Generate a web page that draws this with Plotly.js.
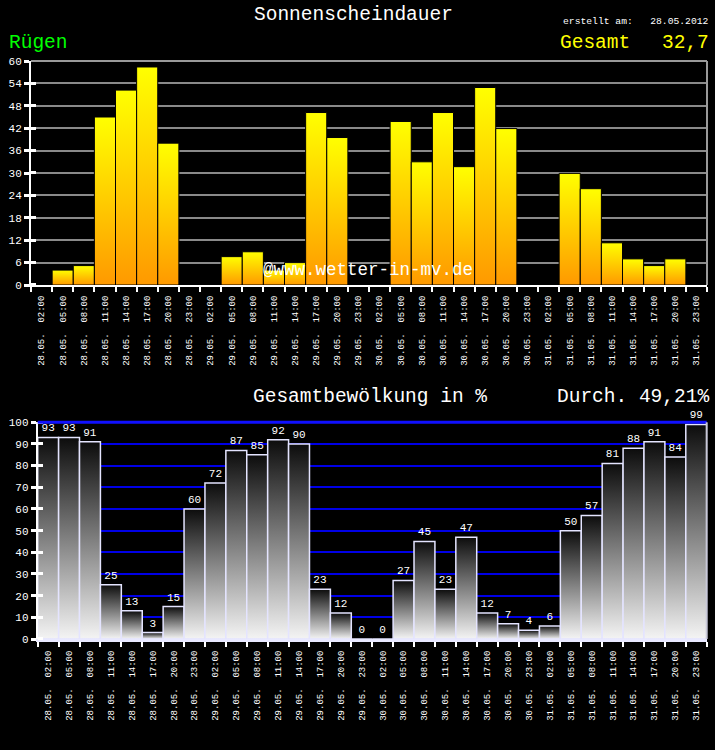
<!DOCTYPE html>
<html><head><meta charset="utf-8">
<script src="https://cdn.plot.ly/plotly-3.0.1.min.js"></script>
<style>html,body{margin:0;padding:0;background:#000;} #chart{width:715px;height:750px;}</style>
</head><body><div id="chart"></div>
<script>
const days = ['28.05.', '29.05.', '30.05.', '31.05.'];
const times = ['02:00', '05:00', '08:00', '11:00', '14:00', '17:00', '20:00', '23:00'];
// sunshine duration per 3-hour slot
const sunshine = [0, 4, 5.2, 45, 52.2, 58.4, 38, 0,
                  0, 7.6, 8.9, 4, 6, 46.2, 39.5, 0,
                  0, 43.8, 33, 46.2, 31.7, 52.9, 41.9, 0,
                  0, 29.9, 25.8, 11.3, 7, 5.2, 7, 0];
// total cloud cover in %
const clouds = [93, 93, 91, 25, 13, 3, 15, 60,
                72, 87, 85, 92, 90, 23, 12, 0,
                0, 27, 45, 23, 47, 12, 7, 4,
                6, 50, 57, 81, 88, 91, 84, 99];

const NB = '\u00a0';
const labels = [];
days.forEach(d => times.forEach(t => labels.push(d + NB + NB + t)));

const MONO = 'Liberation Mono, DejaVu Sans Mono, monospace';
const W = 715, H = 750;
const px = v => v / W, py = v => 1 - v / H;

const traces = [
  {type: 'bar', x: labels, y: sunshine, xaxis: 'x', yaxis: 'y',
   marker: {color: '#ffcc00', line: {color: '#000', width: 1}}, hoverinfo: 'none'},
  {type: 'bar', x: labels, y: clouds, xaxis: 'x2', yaxis: 'y2',
   text: clouds.map(String), textposition: 'outside', cliponaxis: false, constraintext: 'none',
   textangle: 0, textfont: {family: MONO, size: 11, color: '#fff'},
   marker: {color: '#888', line: {color: '#e4e4ff', width: 1.5}}, hoverinfo: 'none'}
];

const xBase = {
  type: 'category', tickson: 'boundaries', ticks: 'outside', ticklen: 5, tickwidth: 2, tickcolor: '#fff',
  showline: true, linecolor: '#fff', linewidth: 2, tickangle: -90, showgrid: false, ticklabelstandoff: 5,
  tickfont: {family: MONO, size: 9, color: '#fff'}, range: [-0.5, 31.5], fixedrange: true
};
const yBase = {
  showline: true, linecolor: '#fff', linewidth: 2, ticks: 'outside', ticklen: 5, tickwidth: 3,
  tickcolor: '#fff', zeroline: false, tickfont: {family: MONO, size: 11, color: '#fff'}, fixedrange: true
};

const layout = {
  width: W, height: H, margin: {l: 0, r: 0, t: 0, b: 0},
  paper_bgcolor: '#000', plot_bgcolor: '#000', showlegend: false, bargap: 0,
  xaxis: Object.assign({}, xBase, {domain: [px(31), px(707)], anchor: 'y'}),
  yaxis: Object.assign({}, yBase, {domain: [py(285), py(61)], anchor: 'x', range: [0, 60], tick0: 0, dtick: 6,
    gridcolor: '#8a8a8a', gridwidth: 2,
    minor: {tick0: 0.01, dtick: 6, ticks: 'inside', ticklen: 5, tickwidth: 3, tickcolor: '#fff', showgrid: false}}),
  xaxis2: Object.assign({}, xBase, {domain: [px(37.7), px(706.7)], anchor: 'y2', linecolor: '#e8e8ff', linewidth: 3}),
  yaxis2: Object.assign({}, yBase, {domain: [py(639), py(422.3)], anchor: 'x2', range: [0, 100], tick0: 0, dtick: 10,
    gridcolor: '#0000e6', gridwidth: 2,
    minor: {tick0: 0.01, dtick: 10, ticks: 'inside', ticklen: 5, tickwidth: 3, tickcolor: '#fff', showgrid: false}}),
  shapes: [
    {type: 'line', xref: 'x domain', yref: 'y domain', x0: 0, x1: 1, y0: 1, y1: 1, line: {color: '#9a9a9a', width: 2}},
    {type: 'line', xref: 'x domain', yref: 'y domain', x0: 1, x1: 1, y0: 0, y1: 1, line: {color: '#9a9a9a', width: 2}},
    {type: 'line', xref: 'x2 domain', yref: 'y2 domain', x0: 0, x1: 1, y0: 1, y1: 1, line: {color: '#1010ff', width: 3}},
    {type: 'line', xref: 'x2 domain', yref: 'y2 domain', x0: 1, x1: 1, y0: 0, y1: 1, line: {color: '#c8c8d8', width: 2}}
  ],
  annotations: [
    {text: 'Sonnenscheindauer', x: px(252), y: py(15), xanchor: 'left', yanchor: 'middle'},
    {text: 'erstellt am:' + NB + NB + NB + '28.05.2012', x: px(711), y: py(22), xanchor: 'right', yanchor: 'middle', font: {family: MONO, size: 9.7, color: '#fff'}},
    {text: 'Rügen', x: px(7), y: py(43), xanchor: 'left', yanchor: 'middle', font: {family: MONO, size: 19.5, color: '#00ff00'}},
    {text: 'Gesamt', x: px(558), y: py(43), xanchor: 'left', yanchor: 'middle', font: {family: MONO, size: 19.5, color: '#ffff00'}},
    {text: '32,7', x: px(711), y: py(43), xanchor: 'right', yanchor: 'middle', font: {family: MONO, size: 19.5, color: '#ffff00'}},
    {text: 'Gesamtbewölkung in %', x: px(251), y: py(397), xanchor: 'left', yanchor: 'middle'},
    {text: 'Durch.' + NB + '49,21%', x: px(711), y: py(397), xanchor: 'right', yanchor: 'middle'},
    {text: '@www.wetter-in-mv.de', x: px(261), y: py(270), xanchor: 'left', yanchor: 'middle', font: {family: MONO, size: 17.5, color: '#fff'}}
  ].map(a => Object.assign({xref: 'paper', yref: 'paper', showarrow: false, font: {family: MONO, size: 19.5, color: '#fff'}}, a))
};

const gd = document.getElementById('chart');
Plotly.newPlot(gd, traces, layout, {staticPlot: true}).then(() => {
  const NS = 'http://www.w3.org/2000/svg';
  const svg = gd.querySelector('svg.main-svg');
  let defs = svg.querySelector('defs');
  if (!defs) { defs = document.createElementNS(NS, 'defs'); svg.insertBefore(defs, svg.firstChild); }
  function grad(id, top, bottom) {
    const g = document.createElementNS(NS, 'linearGradient');
    g.setAttribute('id', id); g.setAttribute('x1', '0'); g.setAttribute('y1', '0');
    g.setAttribute('x2', '0'); g.setAttribute('y2', '1');
    [[0, top], [1, bottom]].forEach(([o, c]) => {
      const s = document.createElementNS(NS, 'stop');
      s.setAttribute('offset', o); s.setAttribute('stop-color', c); g.appendChild(s);
    });
    defs.appendChild(g);
  }
  grad('gSun', '#ffff00', '#ff9900');
  grad('gCloud', '#0c0c0c', '#f4f4f4');
  const barTraces = gd.querySelectorAll('g.trace.bars');
  const ids = ['gSun', 'gCloud'];
  barTraces.forEach((t, i) => {
    t.querySelectorAll('g.point path').forEach(p => { p.style.fill = 'url(#' + ids[i] + ')'; });
  });
});
</script>
</body></html>
